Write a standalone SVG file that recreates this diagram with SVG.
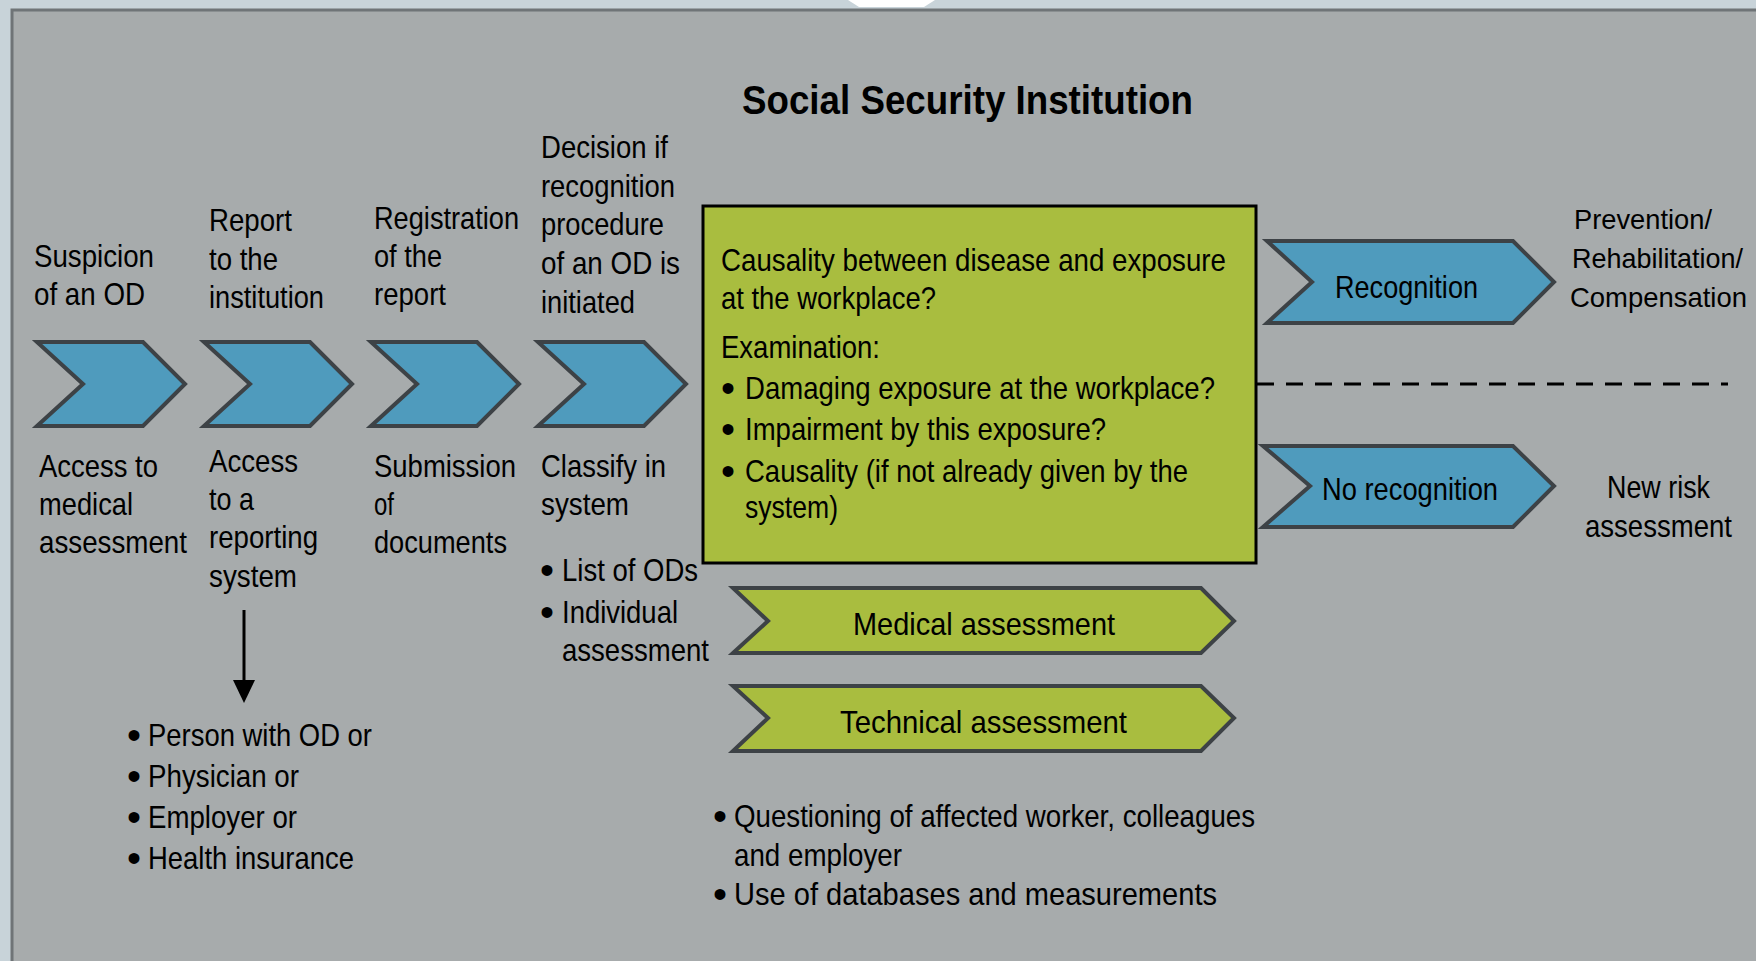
<svg xmlns="http://www.w3.org/2000/svg" width="1756" height="961" viewBox="0 0 1756 961">
<style>
.t{font-family:"Liberation Sans","Arimo",Arial,sans-serif;font-size:32px;fill:#000}
.r{font-size:28.5px}
.bs{font-size:40px}
.ti{font-family:"Liberation Sans",Arial,sans-serif;font-size:40px;font-weight:bold;fill:#000}
.blue{fill:#4f9bbd;stroke:#3d4246;stroke-width:4}
.green{fill:#a9bd3f;stroke:#3d4246;stroke-width:4}
.box{fill:#a9bd3f;stroke:#000;stroke-width:3}
.conn{stroke:#000;stroke-width:3;fill:none}
.frame{stroke:#6f7477;stroke-width:3;fill:none}
</style>
<rect x="0" y="0" width="1756" height="961" fill="#c8d3d9"/>
<path d="M848,0 L859,7 L924,7 L935,0 Z" fill="#ffffff"/>
<rect x="12" y="10" width="1744" height="951" fill="#a7abac"/>
<path class="frame" d="M12,961 L12,10 L1756,10"/>

<g id="title">
<text class="ti" x="742" y="114" textLength="451" lengthAdjust="spacingAndGlyphs">Social Security Institution</text>
</g>

<g id="step1">
<text class="t" x="34" y="267" textLength="120" lengthAdjust="spacingAndGlyphs">Suspicion</text>
<text class="t" x="34" y="305" textLength="111" lengthAdjust="spacingAndGlyphs">of an OD</text>
<polygon class="blue" points="37,342 143,342 185,384 143,426 37,426 83,384"/>
<text class="t" x="39" y="477" textLength="119" lengthAdjust="spacingAndGlyphs">Access to</text>
<text class="t" x="39" y="515" textLength="94" lengthAdjust="spacingAndGlyphs">medical</text>
<text class="t" x="39" y="553" textLength="148" lengthAdjust="spacingAndGlyphs">assessment</text>
</g>

<g id="step2">
<text class="t" x="209" y="231" textLength="83" lengthAdjust="spacingAndGlyphs">Report</text>
<text class="t" x="209" y="270" textLength="69" lengthAdjust="spacingAndGlyphs">to the</text>
<text class="t" x="209" y="308" textLength="115" lengthAdjust="spacingAndGlyphs">institution</text>
<polygon class="blue" points="204,342 310,342 352,384 310,426 204,426 250,384"/>
<text class="t" x="209" y="472" textLength="89" lengthAdjust="spacingAndGlyphs">Access</text>
<text class="t" x="209" y="510" textLength="45" lengthAdjust="spacingAndGlyphs">to a</text>
<text class="t" x="209" y="548" textLength="109" lengthAdjust="spacingAndGlyphs">reporting</text>
<text class="t" x="209" y="587" textLength="88" lengthAdjust="spacingAndGlyphs">system</text>
</g>

<g id="step3">
<text class="t" x="374" y="229" textLength="145" lengthAdjust="spacingAndGlyphs">Registration</text>
<text class="t" x="374" y="267" textLength="68" lengthAdjust="spacingAndGlyphs">of the</text>
<text class="t" x="374" y="305" textLength="72" lengthAdjust="spacingAndGlyphs">report</text>
<polygon class="blue" points="371,342 477,342 519,384 477,426 371,426 417,384"/>
<text class="t" x="374" y="477" textLength="142" lengthAdjust="spacingAndGlyphs">Submission</text>
<text class="t" x="374" y="515" textLength="20" lengthAdjust="spacingAndGlyphs">of</text>
<text class="t" x="374" y="553" textLength="133" lengthAdjust="spacingAndGlyphs">documents</text>
</g>

<g id="step4">
<text class="t" x="541" y="158" textLength="127" lengthAdjust="spacingAndGlyphs">Decision if</text>
<text class="t" x="541" y="197" textLength="134" lengthAdjust="spacingAndGlyphs">recognition</text>
<text class="t" x="541" y="235" textLength="123" lengthAdjust="spacingAndGlyphs">procedure</text>
<text class="t" x="541" y="274" textLength="139" lengthAdjust="spacingAndGlyphs">of an OD is</text>
<text class="t" x="541" y="313" textLength="94" lengthAdjust="spacingAndGlyphs">initiated</text>
<polygon class="blue" points="538,342 644,342 686,384 644,426 538,426 584,384"/>
<text class="t" x="541" y="477" textLength="125" lengthAdjust="spacingAndGlyphs">Classify in</text>
<text class="t" x="541" y="515" textLength="88" lengthAdjust="spacingAndGlyphs">system</text>
<text class="t" y="581"><tspan class="bs" x="540" dy="3">•</tspan><tspan x="562" dy="-3" textLength="136" lengthAdjust="spacingAndGlyphs">List of ODs</tspan></text>
<text class="t" y="623"><tspan class="bs" x="540" dy="3">•</tspan><tspan x="562" dy="-3" textLength="116" lengthAdjust="spacingAndGlyphs">Individual</tspan></text>
<text class="t" x="562" y="661" textLength="147" lengthAdjust="spacingAndGlyphs">assessment</text>
</g>

<g id="reporters">
<text class="t" y="746"><tspan class="bs" x="127" dy="3">•</tspan><tspan x="148" dy="-3" textLength="224" lengthAdjust="spacingAndGlyphs">Person with OD or</tspan></text>
<text class="t" y="787"><tspan class="bs" x="127" dy="3">•</tspan><tspan x="148" dy="-3" textLength="151" lengthAdjust="spacingAndGlyphs">Physician or</tspan></text>
<text class="t" y="828"><tspan class="bs" x="127" dy="3">•</tspan><tspan x="148" dy="-3" textLength="149" lengthAdjust="spacingAndGlyphs">Employer or</tspan></text>
<text class="t" y="869"><tspan class="bs" x="127" dy="3">•</tspan><tspan x="148" dy="-3" textLength="206" lengthAdjust="spacingAndGlyphs">Health insurance</tspan></text>
</g>

<g id="causality">
<rect class="box" x="703" y="206" width="553" height="357"/>
<text class="t" x="721" y="271" textLength="505" lengthAdjust="spacingAndGlyphs">Causality between disease and exposure</text>
<text class="t" x="721" y="309" textLength="215" lengthAdjust="spacingAndGlyphs">at the workplace?</text>
<text class="t" x="721" y="358" textLength="159" lengthAdjust="spacingAndGlyphs">Examination:</text>
<text class="t" y="399"><tspan class="bs" x="721" dy="3">•</tspan><tspan x="745" dy="-3" textLength="470" lengthAdjust="spacingAndGlyphs">Damaging exposure at the workplace?</tspan></text>
<text class="t" y="440"><tspan class="bs" x="721" dy="3">•</tspan><tspan x="745" dy="-3" textLength="361" lengthAdjust="spacingAndGlyphs">Impairment by this exposure?</tspan></text>
<text class="t" y="482"><tspan class="bs" x="721" dy="3">•</tspan><tspan x="745" dy="-3" textLength="443" lengthAdjust="spacingAndGlyphs">Causality (if not already given by the</tspan></text>
<text class="t" x="745" y="518" textLength="93" lengthAdjust="spacingAndGlyphs">system)</text>
</g>

<g id="recognition">
<polygon class="blue" points="1267,241 1513,241 1554,282 1513,323 1267,323 1312,282"/>
<text class="t" x="1335" y="298" textLength="143" lengthAdjust="spacingAndGlyphs">Recognition</text>
</g>

<g id="no-recognition">
<polygon class="blue" points="1263,446 1513,446 1554,486 1513,527 1263,527 1310,486"/>
<text class="t" x="1322" y="500" textLength="176" lengthAdjust="spacingAndGlyphs">No recognition</text>
</g>

<g id="outcome-positive">
<text class="t r" x="1574" y="229" textLength="138" lengthAdjust="spacingAndGlyphs">Prevention/</text>
<text class="t r" x="1572" y="268" textLength="171" lengthAdjust="spacingAndGlyphs">Rehabilitation/</text>
<text class="t r" x="1570" y="307" textLength="177" lengthAdjust="spacingAndGlyphs">Compensation</text>
</g>

<g id="outcome-negative">
<text class="t" x="1607" y="498" textLength="103" lengthAdjust="spacingAndGlyphs">New risk</text>
<text class="t" x="1585" y="537" textLength="147" lengthAdjust="spacingAndGlyphs">assessment</text>
</g>

<g id="medical">
<polygon class="green" points="733,588 1201,588 1234,621 1201,653 733,653 768,621"/>
<text class="t" x="853" y="635" textLength="262" lengthAdjust="spacingAndGlyphs">Medical assessment</text>
</g>

<g id="technical">
<polygon class="green" points="733,686 1201,686 1234,718 1201,751 733,751 768,718"/>
<text class="t" x="840" y="733" textLength="287" lengthAdjust="spacingAndGlyphs">Technical assessment</text>
</g>

<g id="methods">
<text class="t" y="827"><tspan class="bs" x="713" dy="3">•</tspan><tspan x="734" dy="-3" textLength="521" lengthAdjust="spacingAndGlyphs">Questioning of affected worker, colleagues</tspan></text>
<text class="t" x="734" y="866" textLength="168" lengthAdjust="spacingAndGlyphs">and employer</text>
<text class="t" y="905"><tspan class="bs" x="713" dy="3">•</tspan><tspan x="734" dy="-3" textLength="483" lengthAdjust="spacingAndGlyphs">Use of databases and measurements</tspan></text>
</g>

<g id="connectors">
<line class="conn" x1="244" y1="610" x2="244" y2="682"/>
<polygon points="233,680 255,680 244,703" fill="#000"/>
<line x1="1257" y1="384" x2="1728" y2="384" stroke="#000" stroke-width="3" stroke-dasharray="17 12"/>
</g>
</svg>
